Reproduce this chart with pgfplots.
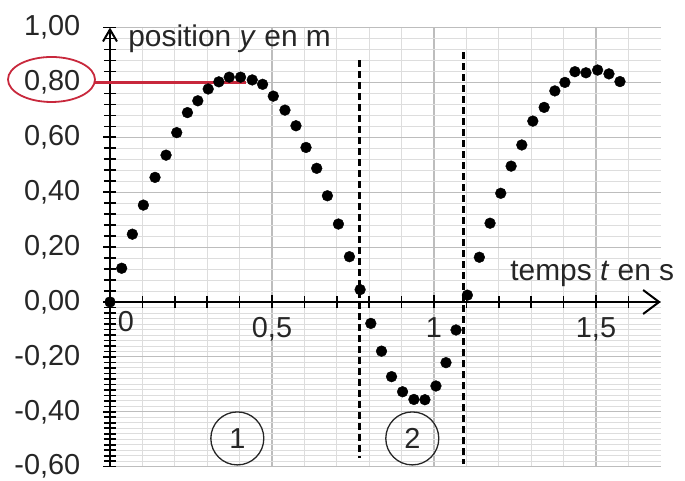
\documentclass[border=0pt]{standalone}
\usepackage{fontspec}
\setmainfont{Liberation Sans}
\usepackage{pgfplots}
\pgfplotsset{compat=1.18}
\usetikzlibrary{arrows.meta}

\definecolor{gridmajor}{HTML}{BDBDBD}
\definecolor{gridminor}{HTML}{DDDDDD}
\definecolor{markred}{HTML}{C8283C}
\definecolor{inktext}{HTML}{262626}

\newcommand{\tickfont}{\fontsize{29}{33}\selectfont}
\newcommand{\labelfont}{\fontsize{30}{34}\selectfont}

\begin{document}
\begin{tikzpicture}
\begin{axis}[
  scale only axis,
  width=550.8bp, height=439.2bp,
  xmin=0, xmax=1.7, ymin=-0.6, ymax=1.0,
  enlargelimits=false,
  clip=false,
  axis x line=middle,
  axis y line=left,
  x axis line style={black, line width=2.4bp,
    -{Straight Barb[length=16bp,width=24bp,line width=2bp]}},
  y axis line style={black, line width=2.6bp,
    -{Straight Barb[length=12bp,width=14bp,line width=2bp]}},
  hide obscured x ticks=false,
  hide obscured y ticks=false,
  xtick={0.5,1,1.5},
  xticklabels={{0,5},1,{1,5}},
  minor xtick={0.1,0.2,0.3,0.4,0.6,0.7,0.8,0.9,1.1,1.2,1.3,1.4,1.6},
  ytick={-0.6,-0.4,-0.2,0,0.2,0.4,0.6,0.8,1},
  yticklabels={{-0,60},{-0,40},{-0,20},{0,00},{0,20},{0,40},{0,60},{0,80},{1,00}},
  minor ytick={-0.58,-0.56,-0.54,-0.52,-0.5,-0.48,-0.46,-0.44,-0.42,
               -0.38,-0.36,-0.34,-0.32,-0.3,-0.28,-0.26,-0.24,-0.22,
               -0.18,-0.16,-0.14,-0.12,-0.1,-0.08,-0.06,-0.04,-0.02,
               0.04,0.08,0.12,0.16,0.24,0.28,0.32,0.36,0.44,0.48,0.52,0.56,
               0.64,0.68,0.72,0.76,0.84,0.88,0.92,0.96},
  grid=both,
  major grid style={gridmajor, line width=1.1bp},
  minor grid style={gridminor, line width=0.8bp},
  tick align=center,
  major tick length=13bp,
  minor tick length=12bp,
  tick style={black, line width=1.6bp},
  tick label style={font=\tickfont, text=inktext, inner sep=0pt},
  yticklabel style={anchor=east, xshift=-23bp},
  xticklabel style={anchor=north, yshift=-9bp},
]

% reading of the maximum at 0,80
\addplot[markred, line width=2.4bp] coordinates {(-0.046,0.8) (0.42,0.8)};

% limits between phase 1 and phase 2
\addplot[black, line width=2.2bp, dash pattern=on 7bp off 4bp]
  coordinates {(0.770,0.88) (0.770,-0.57)};
\addplot[black, line width=2.2bp, dash pattern=on 7bp off 4bp]
  coordinates {(1.091,0.91) (1.091,-0.59)};

% measured positions
\addplot[only marks, mark=*, mark size=5.4bp, black] coordinates {
  (0,0)
  (0.036,0.123) (0.069,0.247) (0.103,0.353) (0.139,0.454) (0.173,0.535)
  (0.206,0.617) (0.239,0.690) (0.271,0.733) (0.303,0.776) (0.336,0.802)
  (0.368,0.819) (0.403,0.819) (0.439,0.809) (0.471,0.793) (0.504,0.750)
  (0.540,0.699) (0.574,0.642) (0.605,0.563) (0.638,0.487) (0.671,0.387)
  (0.705,0.284) (0.739,0.165) (0.772,0.045) (0.805,-0.078) (0.838,-0.179)
  (0.869,-0.272) (0.903,-0.327) (0.938,-0.355) (0.972,-0.356) (1.006,-0.306)
  (1.037,-0.221) (1.068,-0.102) (1.103,0.025) (1.140,0.163) (1.173,0.287)
  (1.206,0.396) (1.238,0.495) (1.271,0.572) (1.305,0.659) (1.340,0.709)
  (1.373,0.769) (1.404,0.800) (1.435,0.839) (1.469,0.835) (1.505,0.845)
  (1.540,0.831) (1.574,0.803)
};

% labels
\node[anchor=base west, inner sep=0pt, font=\labelfont, text=inktext]
  at (axis cs:0.056,0.929) {position \textit{y} en m};
\node[anchor=base west, inner sep=0pt, font=\labelfont, text=inktext]
  at (axis cs:1.235,0.080) {temps \textit{t} en s};
\node[anchor=north, inner sep=0pt, font=\tickfont, text=inktext]
  at (axis cs:0.049,0) [yshift=-9bp] {0};

% phase numbers
\node[draw=inktext, circle, minimum size=53bp, inner sep=0pt, line width=1.3bp,
      font=\tickfont, text=inktext] at (axis cs:0.393,-0.497) {1};
\node[draw=inktext, circle, minimum size=53bp, inner sep=0pt, line width=1.3bp,
      font=\tickfont, text=inktext] at (axis cs:0.933,-0.497) {2};

% highlighted tick label
\draw[markred, line width=1.8bp] (axis cs:-0.1806,0.8106)
  ellipse [x radius=43.5bp, y radius=22.5bp];

\coordinate (bbl) at (axis cs:-0.3395,-0.6521);
\coordinate (btr) at (axis cs:1.7747,1.1002);
\end{axis}
\pgfresetboundingbox
\path[use as bounding box] (bbl) rectangle (btr);
\end{tikzpicture}
\end{document}
